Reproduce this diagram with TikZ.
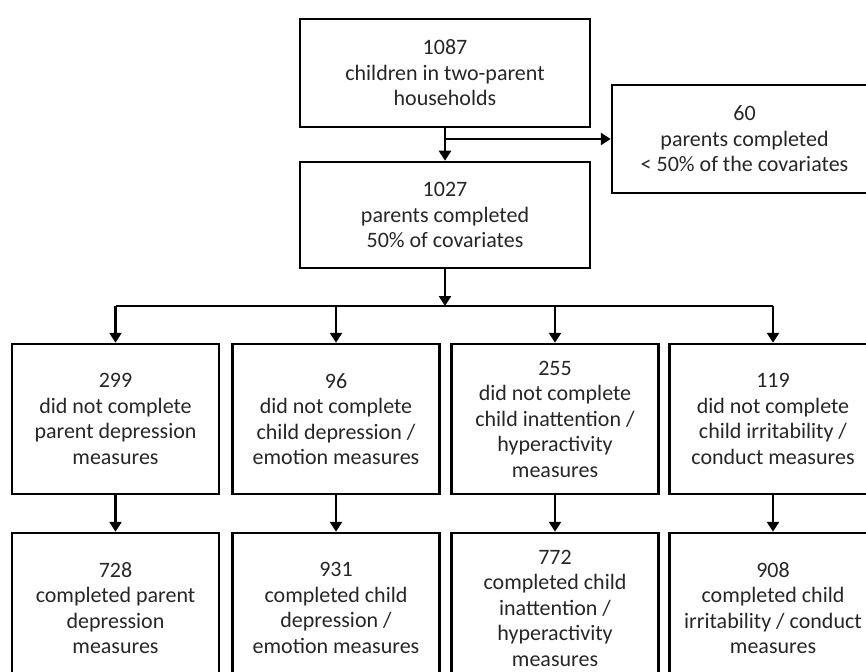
\documentclass[tikz,border=0pt]{standalone}
\usepackage{fontspec}
\setmainfont{Carlito}
\usetikzlibrary{arrows.meta}
\begin{document}
\begin{tikzpicture}[x=1pt, y=-1pt, line width=2.5pt, >={Triangle[length=10pt,width=12pt]},
        box/.style = {draw, line width=2.5pt, align=center, inner sep=0pt, text=black!85,
                      font=\fontsize{22}{25.5}\selectfont},
        topbox/.style = {box, minimum width=290pt, minimum height=108pt},
        colbox/.style = {box, minimum width=207pt, minimum height=150pt}]
        \useasboundingbox (0,0) rectangle (866,671);
        \node[topbox] (Households) at (445,73) {1087\\children in two-parent\\households};
        \node[topbox, minimum width=265pt] (Excluded) at (744.5,139) {60\\parents completed\\< 50\% of the covariates};
        \node[topbox, minimum height=106pt] (Covariates) at (445,215) {1027\\parents completed\\50\% of covariates};
        \coordinate (Split) at (445,306);

        \node[colbox] (NoParentDep) at (115.5,419) {299\\did not complete\\parent depression\\measures};
        \node[colbox] (NoChildDep) at (336,419) {96\\did not complete\\child depression /\\emotion measures};
        \node[colbox] (NoInattention) at (555,419) {255\\did not complete\\child inattention /\\hyperactivity\\measures};
        \node[colbox] (NoIrritability) at (773,419) {119\\did not complete\\child irritability /\\conduct measures};

        \node[colbox] (ParentDep) at (115.5,608) {728\\completed parent\\depression\\measures};
        \node[colbox] (ChildDep) at (336,608) {931\\completed child\\depression /\\emotion measures};
        \node[colbox] (Inattention) at (555,608) {772\\completed child\\inattention /\\hyperactivity\\measures};
        \node[colbox] (Irritability) at (773,608) {908\\completed child\\irritability / conduct\\measures};

        \draw [->] (Households) -- (Covariates);
        \draw [->] (Households.south |- Excluded.west) -- (Excluded.west);
        \draw [->] (Covariates) -- (Split);
        \draw (NoParentDep.north |- Split) -- (NoIrritability.north |- Split);
        \draw [->] (NoParentDep.north |- Split) -- (NoParentDep);
        \draw [->] (NoChildDep.north |- Split) -- (NoChildDep);
        \draw [->] (NoInattention.north |- Split) -- (NoInattention);
        \draw [->] (NoIrritability.north |- Split) -- (NoIrritability);
        \draw [->] (NoParentDep) -- (ParentDep);
        \draw [->] (NoChildDep) -- (ChildDep);
        \draw [->] (NoInattention) -- (Inattention);
        \draw [->] (NoIrritability) -- (Irritability);
    \end{tikzpicture}
\end{document}
